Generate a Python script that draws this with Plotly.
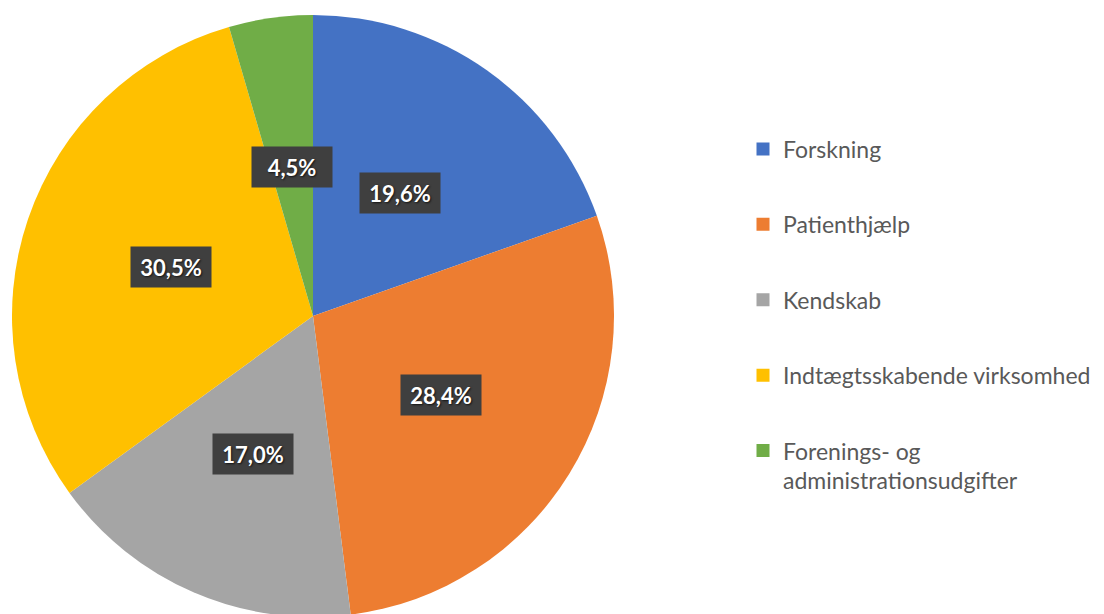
import math
import plotly.graph_objects as go

labels = ["Forskning", "Patienthjælp", "Kendskab", "Indtægtsskabende virksomhed",
          "Forenings- og administrationsudgifter"]
legend_text = ["Forskning", "Patienthjælp", "Kendskab", "Indtægtsskabende virksomhed",
               "Forenings- og<br>administrationsudgifter"]
values = [19.6, 28.4, 17.0, 30.5, 4.5]
colors = ["#4472C4", "#ED7D31", "#A5A5A5", "#FFC000", "#70AD47"]

W, H = 1104, 614
cx, cy, R = 305, 308, 301  # pie centre / radius in figure pixels

fig = go.Figure()
fig.add_trace(go.Pie(
    labels=labels, values=values, sort=False, direction="clockwise", rotation=0,
    marker=dict(colors=colors, line=dict(width=0)),
    textinfo="none", showlegend=False,
    domain=dict(x=[(cx - R) / W, (cx + R) / W], y=[(H - (cy + R)) / H, (H - (cy - R)) / H]),
))

# legend entries
for i, (lab, col) in enumerate(zip(legend_text, colors)):
    fig.add_trace(go.Scatter(
        x=[None], y=[None], mode="markers", name=lab, legendgroup=f"g{i}",
        marker=dict(symbol="square", size=13, color=col),
    ))

# data labels
total = sum(values)
cum = 0.0
annotations = []
for v in values:
    mid = (cum + v / 2) / total * 2 * math.pi
    cum += v
    r = 0.5 * R
    xp = cx + r * math.sin(mid)
    yp = cy - r * math.cos(mid)
    annotations.append(dict(
        x=xp / W, y=1 - yp / H, xref="paper", yref="paper",
        xanchor="center", yanchor="middle",
        text=f"{v:.1f}".replace(".", ",") + "%", showarrow=False,
        font=dict(family="Lato", size=22, color="white", weight="bold",
                  shadow="1px 1px 2px rgba(0,0,0,0.7)"),
        bgcolor="#3F3F3F", width=80, height=40, borderpad=0,
    ))

fig.update_layout(
    width=W, height=H, margin=dict(l=0, r=0, t=0, b=0),
    paper_bgcolor="white", plot_bgcolor="white",
    xaxis=dict(visible=False), yaxis=dict(visible=False),
    annotations=annotations,
    legend=dict(x=735 / W, y=1 - 119.5 / H, xanchor="left", yanchor="top",
                tracegroupgap=42.5, valign="top",
                font=dict(family="Lato", size=23, color="#595959")),
)

fig.write_html("out.html")
